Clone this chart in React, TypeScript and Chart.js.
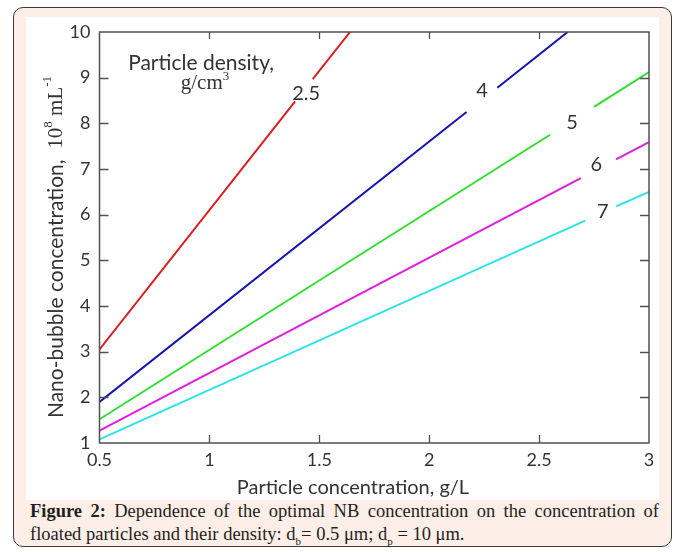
import React, { useEffect, useRef } from "react";
import { Chart, registerables } from "chart.js";
Chart.register(...registerables);

const densityLabels = ["2.5", "4", "5", "6", "7"];
const seriesColors = ["#dc1e1e", "#1414b0", "#30de30", "#de20de", "#30e2e8"];
const redX = [0.5, 1.39, 1.43, 1.47, 1.64];
const redY = [3.05, 8.48, null, 8.97, 10.0];
const blueX = [0.5, 2.17, 2.24, 2.31, 2.63];
const blueY = [1.9, 8.25, null, 8.78, 10.0];
const greenX = [0.5, 2.55, 2.65, 2.75, 3.0];
const greenY = [1.52, 7.75, null, 8.36, 9.12];
const magentaX = [0.5, 2.69, 2.77, 2.85, 3.0];
const magentaY = [1.27, 6.8, null, 7.21, 7.59];
const cyanX = [0.5, 2.71, 2.78, 2.85, 3.0];
const cyanY = [1.08, 5.87, null, 6.18, 6.5];
const labelX = [1.44, 2.24, 2.65, 2.76, 2.79];
const labelY = [8.66, 8.71, 8.01, 7.09, 6.06];
const xTickValues = [0.5, 1, 1.5, 2, 2.5, 3];
const yTickValues = [1, 2, 3, 4, 5, 6, 7, 8, 9, 10];

const seriesX = [redX, blueX, greenX, magentaX, cyanX];
const seriesY = [redY, blueY, greenY, magentaY, cyanY];

const SANS = "Lato";
const SERIF = "'Liberation Serif', 'Times New Roman', serif";

const framePlugin = {
  id: "framePlugin",
  afterDraw(chart: any) {
    const { ctx, chartArea } = chart;
    const { left, right, top, bottom } = chartArea;
    const xs = chart.scales.x;
    const ys = chart.scales.y;
    ctx.save();
    // frame
    ctx.strokeStyle = "#505050";
    ctx.lineWidth = 1.5;
    ctx.strokeRect(left, top, right - left, bottom - top);
    // inward ticks
    ctx.lineWidth = 1.3;
    ctx.beginPath();
    xTickValues.slice(1, -1).forEach((v) => {
      const px = Math.round(xs.getPixelForValue(v)) + 0.5;
      ctx.moveTo(px, bottom);
      ctx.lineTo(px, bottom - 8);
      ctx.moveTo(px, top);
      ctx.lineTo(px, top + 7);
    });
    yTickValues.slice(1, -1).forEach((v) => {
      const py = Math.round(ys.getPixelForValue(v)) + 0.5;
      ctx.moveTo(left, py);
      ctx.lineTo(left + 9, py);
      ctx.moveTo(right, py);
      ctx.lineTo(right - 9, py);
    });
    ctx.stroke();

    // curve labels
    ctx.fillStyle = "#333";
    ctx.font = `20px ${SANS}`;
    ctx.textAlign = "center";
    ctx.textBaseline = "middle";
    densityLabels.forEach((t, i) => {
      ctx.fillText(t, xs.getPixelForValue(labelX[i]), ys.getPixelForValue(labelY[i]));
    });
    // legend title
    ctx.font = `21px ${SANS}`;
    ctx.fillText("Particle density,", xs.getPixelForValue(0.962), ys.getPixelForValue(9.32));
    // g/cm3
    ctx.font = `21px ${SERIF}`;
    const gw = ctx.measureText("g/cm").width;
    ctx.font = `13px ${SERIF}`;
    const sw = ctx.measureText("3").width;
    const gcx = xs.getPixelForValue(0.98);
    const gcy = ys.getPixelForValue(8.88);
    const sx = gcx - (gw + sw) / 2;
    ctx.textAlign = "left";
    ctx.font = `21px ${SERIF}`;
    ctx.fillText("g/cm", sx, gcy);
    ctx.font = `13px ${SERIF}`;
    ctx.fillText("3", sx + gw, gcy - 7);

    // x title
    ctx.textAlign = "center";
    ctx.font = `20px ${SANS}`;
    ctx.fillText("Particle concentration, g/L", 327, 471);

    // y title (rotated)
    ctx.translate(30, 230);
    ctx.rotate(-Math.PI / 2);
    const parts: [string, string, number][] = [
      ["Nano-bubble concentration,  ", `21px ${SANS}`, 0],
      ["10", `21px ${SERIF}`, 0],
      ["8", `13px ${SERIF}`, -7],
      [" mL", `21px ${SERIF}`, 0],
      ["-1", `13px ${SERIF}`, -8],
    ];
    let total = 0;
    parts.forEach(([t, f]) => {
      ctx.font = f;
      total += ctx.measureText(t).width;
    });
    let cx = -total / 2;
    ctx.textAlign = "left";
    parts.forEach(([t, f, dy]) => {
      ctx.font = f;
      ctx.fillText(t, cx, dy);
      cx += ctx.measureText(t).width;
    });
    ctx.restore();
  },
};

function ChartCanvas() {
  const ref = useRef<HTMLCanvasElement | null>(null);
  useEffect(() => {
    if (!ref.current) return;
    const datasets = seriesX.map((xsArr, i) => ({
      label: densityLabels[i],
      data: xsArr.map((x, j) => ({ x, y: seriesY[i][j] })),
      borderColor: seriesColors[i],
      backgroundColor: seriesColors[i],
      borderWidth: 2,
      pointRadius: 0,
      showLine: true,
      spanGaps: false,
      fill: false,
    }));
    const chart = new Chart(ref.current, {
      type: "scatter",
      data: { datasets: datasets as any },
      options: {
        animation: false,
        responsive: false,
        maintainAspectRatio: false,
        layout: { padding: { left: 0, top: 15, right: 10, bottom: 0 } },
        plugins: { legend: { display: false }, tooltip: { enabled: false } },
        scales: {
          x: {
            type: "linear",
            min: 0.5,
            max: 3,
            afterBuildTicks: (s: any) => {
              s.ticks = xTickValues.map((v) => ({ value: v }));
            },
            afterFit: (s: any) => {
              s.height = 57;
              s.paddingLeft = 0;
              s.paddingRight = 0;
            },
            grid: { display: false, drawTicks: false },
            border: { display: false },
            ticks: {
              padding: 6,
              color: "#333",
              font: { family: SANS, size: 18 },
              maxRotation: 0,
              autoSkip: false,
              callback: (v: any) => String(v),
            },
          },
          y: {
            type: "linear",
            min: 1,
            max: 10,
            afterBuildTicks: (s: any) => {
              s.ticks = yTickValues.map((v) => ({ value: v }));
            },
            afterFit: (s: any) => {
              s.width = 73.5;
              s.paddingTop = 0;
              s.paddingBottom = 0;
            },
            grid: { display: false, drawTicks: false },
            border: { display: false },
            ticks: {
              padding: 9,
              color: "#333",
              font: { family: SANS, size: 18 },
              autoSkip: false,
              callback: (v: any) => String(v),
            },
          },
        },
      },
      plugins: [framePlugin],
    });
    return () => chart.destroy();
  }, []);
  return <canvas ref={ref} width={633} height={483} style={{ display: "block", width: 633, height: 483 }} />;
}

export default function App() {
  return (
    <div>
      <div
        style={{
          position: "absolute",
          left: 13,
          top: 7,
          width: 657,
          height: 538,
          border: "1.5px solid #3a3a3a",
          borderRadius: 10,
          background: "#fdeee7",
        }}
      />
      <div style={{ position: "absolute", left: 26, top: 17, width: 633, height: 483, background: "#fff" }}>
        <ChartCanvas />
      </div>
      <div
        style={{
          position: "absolute",
          left: 30,
          top: 500,
          width: 629,
          fontFamily: SERIF,
          fontSize: 18.5,
          lineHeight: "23px",
          color: "#231f20",
        }}
      >
        <div style={{ textAlign: "justify", textAlignLast: "justify" as any, whiteSpace: "nowrap" as any }}>
          <b>Figure 2:</b> Dependence of the optimal NB concentration on the concentration of
        </div>
        <div>
          floated particles and their density: d<sub style={{ fontSize: 11 }}>b</sub>= 0.5 μm; d
          <sub style={{ fontSize: 11 }}>p</sub> = 10 μm.
        </div>
      </div>
    </div>
  );
}
